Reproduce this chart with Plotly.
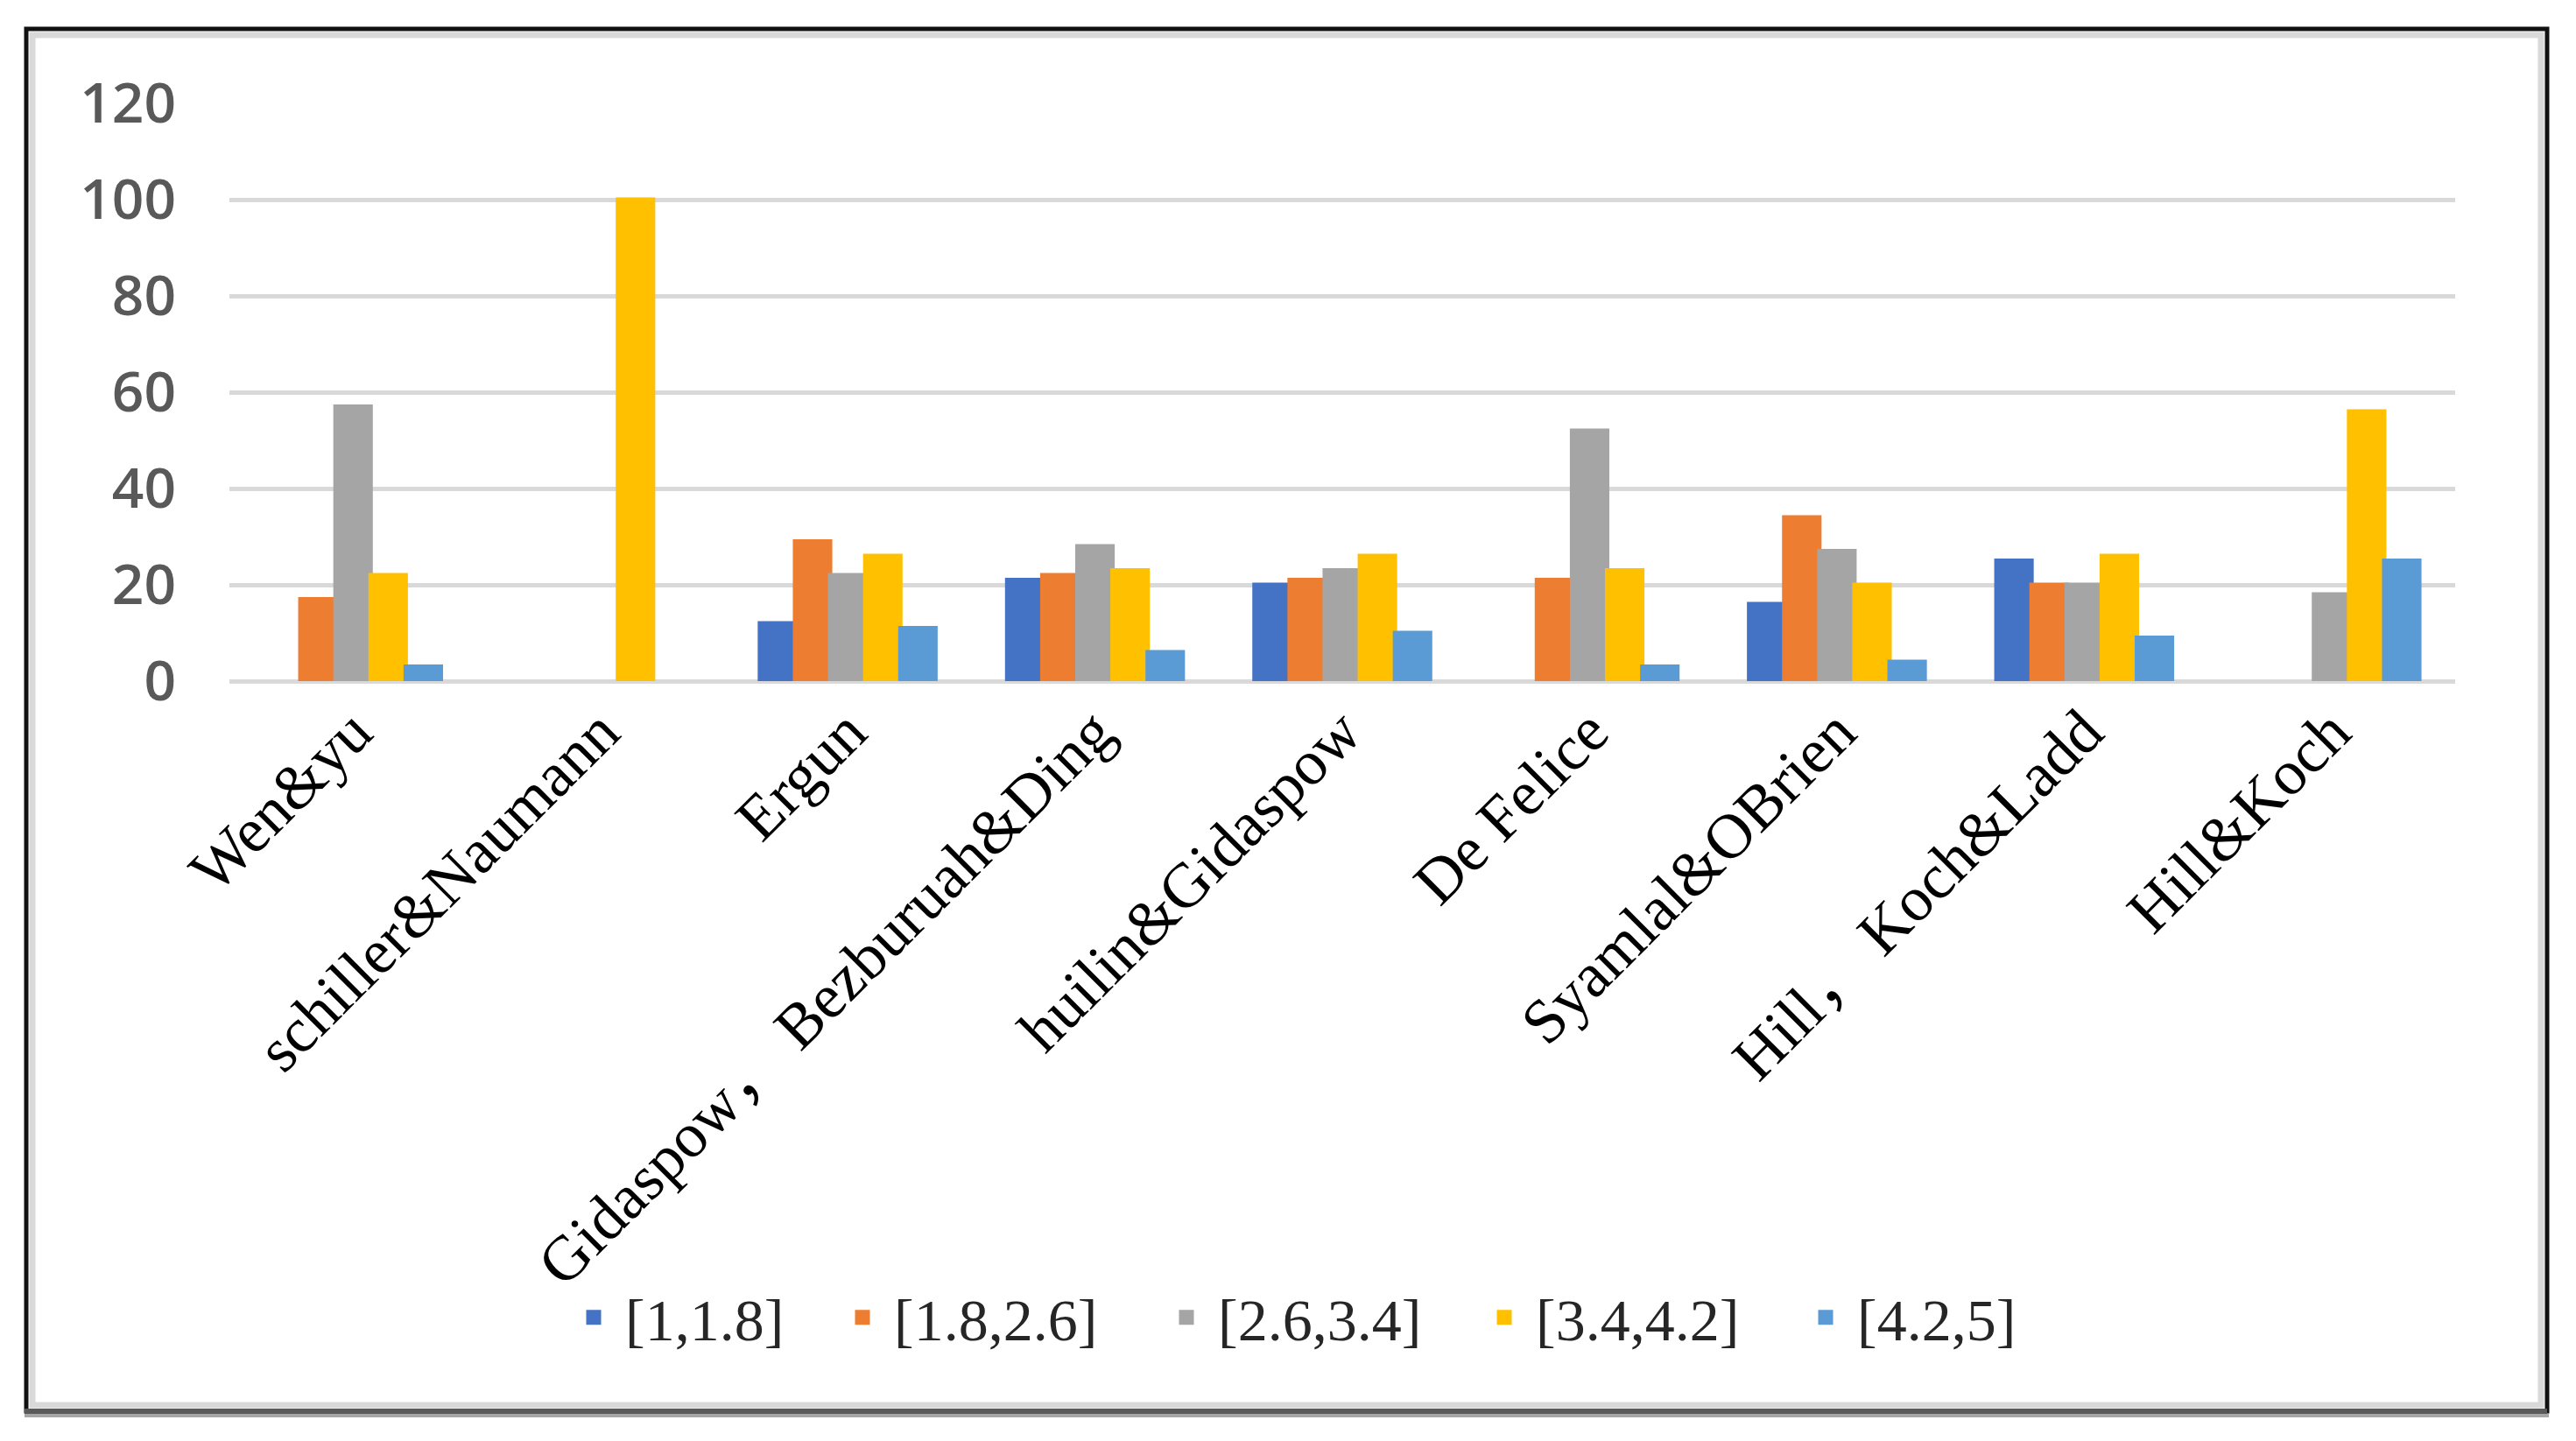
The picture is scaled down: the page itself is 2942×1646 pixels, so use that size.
import plotly.graph_objects as go

categories = ["Wen&yu", "schiller&Naumann", "Ergun", "Gidaspow， Bezburuah&Ding",
              "huilin&Gidaspow", "De Felice", "Syamlal&OBrien", "Hill， Koch&Ladd", "Hill&Koch"]
series_names = ["[1,1.8]", "[1.8,2.6]", "[2.6,3.4]", "[3.4,4.2]", "[4.2,5]"]
s_1_18 = [None, None, 12, 21, 20, None, 16, 25, None]
s_18_26 = [17, None, 29, 22, 21, 21, 34, 20, None]
s_26_34 = [57, None, 22, 28, 23, 52, 27, 20, 18]
s_34_42 = [22, 100, 26, 23, 26, 23, 20, 26, 56]
s_42_5 = [3, None, 11, 6, 10, 3, 4, 9, 25]
y_ticks = [0, 20, 40, 60, 80, 100, 120]

series = [s_1_18, s_18_26, s_26_34, s_34_42, s_42_5]
colors = ["#4472C4", "#ED7D31", "#A5A5A5", "#FFC000", "#5B9BD5"]

OFF = 8  # page body margin
W, H = 2942 - 2 * OFF, 1646 - 2 * OFF
L, R, T, B = 262 - OFF, 2804 - OFF, 118 - OFF, 778 - OFF


def xp(px):
    return (px - OFF - L) / (R - L)


def yp(py):
    return (B - (py - OFF)) / (B - T)


legend_keys = ["legend", "legend2", "legend3", "legend4", "legend5"]
text_starts = [714, 1021, 1391, 1754, 2121]

fig = go.Figure()
for name, vals, col, lk in zip(series_names, series, colors, legend_keys):
    fig.add_trace(go.Bar(
        x=categories, y=vals, name=name, legend=lk,
        marker=dict(color=col, line=dict(color=col, width=5)),
    ))

layout_legends = {}
for lk, ts in zip(legend_keys, text_starts):
    layout_legends[lk] = dict(
        x=(ts - OFF - 72) / W, xref="container", xanchor="left",
        y=1 - (1505 - OFF) / H, yref="container", yanchor="middle",
        orientation="h", itemwidth=62, bgcolor="rgba(0,0,0,0)",
        font=dict(family="Liberation Serif", size=68, color="#262626"),
    )

shapes = [
    dict(type="rect", xref="paper", yref="paper", x0=xp(37), x1=xp(2902), y0=yp(1605), y1=yp(40),
         line=dict(color="#d9d9d9", width=7)),
    dict(type="rect", xref="paper", yref="paper", x0=xp(30), x1=xp(2909), y0=yp(1612), y1=yp(33),
         line=dict(color="#111111", width=5)),
    dict(type="line", xref="paper", yref="paper", x0=xp(28), x1=xp(2911), y0=yp(1617), y1=yp(1617),
         line=dict(color="#a6a6a6", width=4)),
    dict(type="line", xref="paper", yref="paper", x0=xp(28), x1=xp(2909), y0=yp(1612), y1=yp(1612),
         line=dict(color="#5a5a5a", width=6)),
]

fig.update_layout(
    width=W, height=H,
    margin=dict(l=L, r=W - R, t=T, b=H - B, autoexpand=False),
    paper_bgcolor="white", plot_bgcolor="white",
    barmode="group", bargap=0.29, bargroupgap=0,
    showlegend=True,
    shapes=shapes,
    xaxis=dict(type="category", tickangle=-45, showgrid=False, showline=False, ticks="",
               tickfont=dict(family="Liberation Serif, Noto Sans CJK SC", size=72, color="#000000")),
    yaxis=dict(range=[0, 120], tickvals=y_ticks, showgrid=True, gridcolor="#d9d9d9", gridwidth=5,
               zeroline=True, zerolinecolor="#d9d9d9", zerolinewidth=5, showline=False, ticks="",
               ticklabelstandoff=60,
               tickfont=dict(family="Open Sans", size=64, color="#595959", weight=600)),
    **layout_legends,
)

fig.write_html("out.html")
